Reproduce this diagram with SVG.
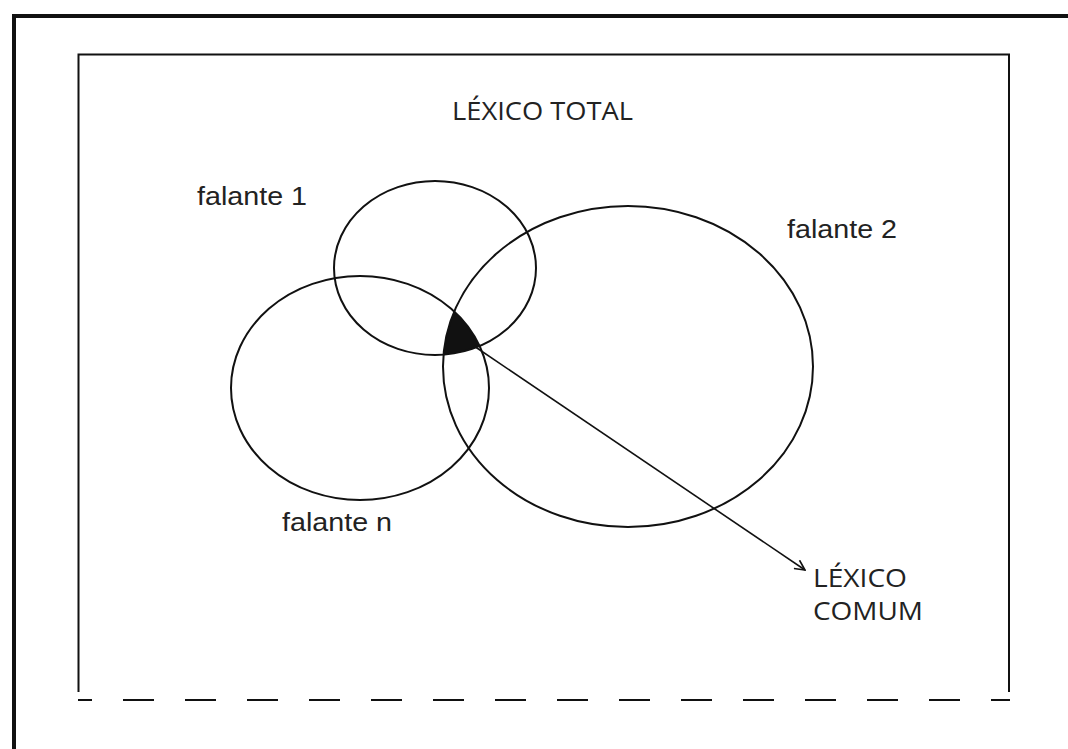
<svg xmlns="http://www.w3.org/2000/svg" width="1068" height="749" viewBox="0 0 1068 749">
<style>
.o{fill:none;stroke:#111;stroke-width:2}
.lbl{font-family:"Liberation Sans",Arial,sans-serif;font-size:25px;fill:#222}
.cap{font-family:"Open Sans","Noto Sans",sans-serif;font-size:26px;fill:#222}
</style>
<defs>
<clipPath id="c1"><ellipse cx="435" cy="268" rx="101" ry="87"/></clipPath>
<clipPath id="c2"><ellipse cx="628" cy="366.5" rx="185" ry="160.5"/></clipPath>
<marker id="arr" viewBox="0 0 12 12" refX="11" refY="6" markerWidth="12" markerHeight="12" markerUnits="userSpaceOnUse" orient="auto"><path d="M1,1 L11,6 L1,11" fill="none" stroke="#111" stroke-width="1.6"/></marker>
</defs>
<rect width="1068" height="749" fill="#fff"/>
<g id="frame">
<path d="M14,749 V16 H1068" fill="none" stroke="#111" stroke-width="4"/>
<path d="M78.5,692 V54.5 H1009 V692" class="o"/>
<line x1="78" y1="700" x2="1010" y2="700" stroke="#111" stroke-width="2" stroke-dasharray="14,31,31,31,31,31,31,31,31,31,31,31,31,31,31,31,31,31,31,31,31,31,31,31,31,31,31,31,31,31,31,31,31,31,31"/>
</g>
<text class="cap" x="452" y="120" textLength="181" lengthAdjust="spacingAndGlyphs">LÉXICO TOTAL</text>
<g id="common">
<g clip-path="url(#c1)"><g clip-path="url(#c2)"><ellipse cx="360" cy="388" rx="129" ry="112" fill="#111"/></g></g>
</g>
<g id="falante1"><ellipse class="o" cx="435" cy="268" rx="101" ry="87"/><text class="lbl" x="197" y="205" textLength="110" lengthAdjust="spacingAndGlyphs">falante 1</text></g>
<g id="falante2"><ellipse class="o" cx="628" cy="366.5" rx="185" ry="160.5"/><text class="lbl" x="787" y="238" textLength="110" lengthAdjust="spacingAndGlyphs">falante 2</text></g>
<g id="falanten"><ellipse class="o" cx="360" cy="388" rx="129" ry="112"/><text class="lbl" x="282" y="531" textLength="110" lengthAdjust="spacingAndGlyphs">falante n</text></g>
<g id="connectors">
<line x1="474" y1="346" x2="805" y2="570" stroke="#111" stroke-width="1.6" marker-end="url(#arr)"/>
</g>
<g id="lexicocomum">
<text class="cap" x="813" y="587" textLength="94" lengthAdjust="spacingAndGlyphs">LÉXICO</text>
<text class="cap" x="813" y="620" textLength="110" lengthAdjust="spacingAndGlyphs">COMUM</text>
</g>
</svg>
